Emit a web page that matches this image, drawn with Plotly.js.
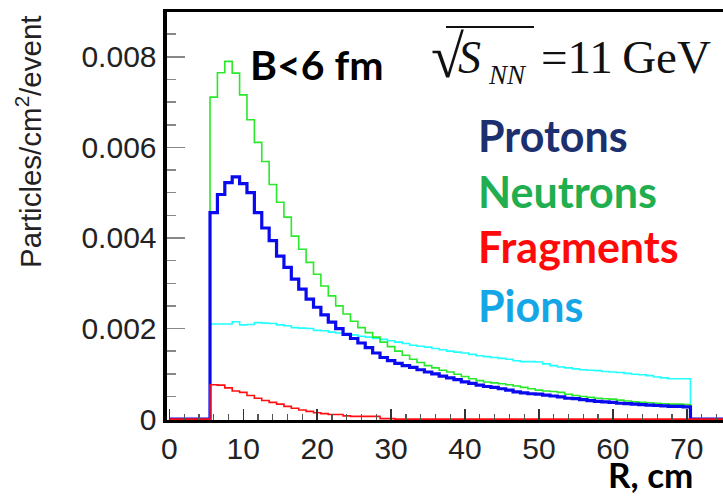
<!DOCTYPE html>
<html>
<head>
<meta charset="utf-8">
<script src="https://cdn.plot.ly/plotly-3.0.1.min.js"></script>
<style>html,body{margin:0;padding:0;background:#fff;}#chart{width:723px;height:497px;}</style>
</head>
<body>
<div id="chart"></div>
<script>
// R bin centres (cm)
const R = [0,1,2,3,4,5,6,7,8,9,10,11,12,13,14,15,16,17,18,19,20,21,22,23,24,25,26,27,28,29,30,
  31,32,33,34,35,36,37,38,39,40,41,42,43,44,45,46,47,48,49,50,51,52,53,54,55,56,57,58,59,60,
  61,62,63,64,65,66,67,68,69,70,71,72,73,74,75];

// Particles/cm^2/event
const protons = [0,0,0,0,0,0,
  0.00456,0.00496,0.00522,0.00535,0.00520,0.00500,0.00456,0.00422,0.00394,0.00360,
  0.00335,0.00309,0.00287,0.00265,0.00247,0.00230,0.00214,0.00200,0.00187,0.00178,
  0.00168,0.00158,0.00146,0.00136,0.00129,0.00123,0.00118,0.00114,0.00109,0.00104,
  0.00100,0.00095,0.00091,0.00087,0.00082,0.00079,0.00075,0.00072,0.00070,0.00067,
  0.00064,0.00060,0.00058,0.00056,0.00055,0.00053,0.00051,0.00049,0.00046,0.00045,
  0.00043,0.00041,0.00039,0.00038,0.00037,0.00035,0.00034,0.00033,0.00032,0.00031,
  0.00030,0.00029,0.00028,0.00028,0.00027,
  0,0,0,0,0];

const neutrons = [0,0,0,0,0,0,
  0.00711,0.00765,0.00790,0.00764,0.00716,0.00661,0.00611,0.00569,0.00518,0.00479,
  0.00446,0.00404,0.00375,0.00346,0.00320,0.00294,0.00272,0.00250,0.00232,0.00216,
  0.00202,0.00191,0.00181,0.00170,0.00160,0.00150,0.00141,0.00132,0.00125,0.00118,
  0.00113,0.00108,0.00104,0.00099,0.00094,0.00089,0.00085,0.00082,0.00080,0.00078,
  0.00076,0.00073,0.00070,0.00067,0.00064,0.00062,0.00061,0.00059,0.00055,0.00052,
  0.00050,0.00048,0.00046,0.00045,0.00044,0.00042,0.00040,0.00038,0.00037,0.00036,
  0.00035,0.00034,0.00033,0.00033,0.00032,
  0,0,0,0,0];

const fragments = [0,0,0,0,0,0,
  0.00076,0.00075,0.00069,0.00062,0.00059,0.00052,0.00046,0.00041,0.00037,0.00033,
  0.00028,0.00024,0.00020,0.00017,0.00014,0.00012,0.00010,0.00010,0.00007,0.00006,
  0.00006,0.00006,0.00006,0.00001,0.00001,0,0,0,0,0,
  0,0,0,0,0,0,0,0,0,0,
  0,0,0,0,0,0,0,0,0,0,
  0,0,0,0,0,0,0,0,0,0,
  0,0,0,0,0,
  0,0,0,0,0];

const pions = [0,0,0,0,0,0,
  0.00210,0.00210,0.00210,0.00215,0.00208,0.00209,0.00213,0.00212,0.00211,0.00208,
  0.00206,0.00202,0.00201,0.00200,0.00196,0.00195,0.00192,0.00190,0.00188,0.00186,
  0.00183,0.00181,0.00178,0.00176,0.00173,0.00170,0.00167,0.00163,0.00161,0.00159,
  0.00156,0.00153,0.00150,0.00148,0.00146,0.00143,0.00140,0.00138,0.00136,0.00134,
  0.00132,0.00129,0.00127,0.00127,0.00126,0.00122,0.00118,0.00115,0.00113,0.00111,
  0.00109,0.00108,0.00107,0.00105,0.00104,0.00103,0.00101,0.00099,0.00098,0.00096,
  0.00093,0.00091,0.00089,0.00089,0.00089,
  0,0,0,0,0];

const yTicks = [0, 0.002, 0.004, 0.006, 0.008];
const yTickText = ['0', '0.002', '0.004', '0.006', '0.008'];
const xTicks = [0, 10, 20, 30, 40, 50, 60, 70];
const xTickText = ['0', '10', '20', '30', '40', '50', '60', '70'];

const legendNames = ['Protons', 'Neutrons', 'Fragments', 'Pions'];

// page geometry helpers (plot area 167..723 x, 12..420 y)
const L = 167, T = 12, W = 556, H = 408;
const px = x => (x - L) / W;
const py = y => (T + H - y) / H;

function step(y, color, width) {
  return {x: R, y: y, type: 'scatter', mode: 'lines',
    line: {shape: 'hvh', color: color, width: width}, hoverinfo: 'skip', showlegend: false};
}

const traces = [
  step(pions, '#22ffff', 1.6),
  step(neutrons, '#2ae82a', 1.6),
  step(protons, '#0a0aee', 3.2),
  step(fragments, '#ff1010', 1.6)
];

const sans = 'Liberation Sans, Arial, sans-serif';
const serif = 'Liberation Serif, Times New Roman, serif';
const cal = 'Lato, Open Sans, sans-serif';

const annotations = [
  {text: 'Particles/cm<sup>2</sup>/event', xref: 'paper', yref: 'paper', x: px(28), y: py(142),
   xanchor: 'center', yanchor: 'middle', textangle: -90, showarrow: false,
   font: {family: sans, size: 29.5, color: '#222'}},
  {text: '<b>B<6 fm</b>', xref: 'paper', yref: 'paper', x: px(248), y: py(64),
   xanchor: 'left', yanchor: 'middle', showarrow: false,
   font: {family: cal, size: 41, color: '#000'}},
  {text: '\u221A', xref: 'paper', yref: 'paper', x: px(429), y: py(57),
   xanchor: 'left', yanchor: 'middle', showarrow: false,
   font: {family: serif, size: 60, color: '#111'}},
  {text: '<i>S</i>', xref: 'paper', yref: 'paper', x: px(456), y: py(57),
   xanchor: 'left', yanchor: 'middle', showarrow: false,
   font: {family: serif, size: 46, color: '#111'}},
  {text: '<i>NN</i>', xref: 'paper', yref: 'paper', x: px(486), y: py(75),
   xanchor: 'left', yanchor: 'middle', showarrow: false,
   font: {family: serif, size: 27, color: '#111'}},
  {text: '=11\u2009GeV', xref: 'paper', yref: 'paper', x: px(539), y: py(57),
   xanchor: 'left', yanchor: 'middle', showarrow: false,
   font: {family: serif, size: 47, color: '#111'}},
  {text: '<b>' + legendNames[0] + '</b>', xref: 'paper', yref: 'paper', x: px(476), y: py(135),
   xanchor: 'left', yanchor: 'middle', showarrow: false,
   font: {family: cal, size: 43, color: '#1c2f6e'}},
  {text: '<b>' + legendNames[1] + '</b>', xref: 'paper', yref: 'paper', x: px(476), y: py(191),
   xanchor: 'left', yanchor: 'middle', showarrow: false,
   font: {family: cal, size: 43, color: '#20ae4e'}},
  {text: '<b>' + legendNames[2] + '</b>', xref: 'paper', yref: 'paper', x: px(476), y: py(247),
   xanchor: 'left', yanchor: 'middle', showarrow: false,
   font: {family: cal, size: 43, color: '#ff0a0a'}},
  {text: '<b>' + legendNames[3] + '</b>', xref: 'paper', yref: 'paper', x: px(476), y: py(305),
   xanchor: 'left', yanchor: 'middle', showarrow: false,
   font: {family: cal, size: 43, color: '#14a6e6'}},
  {text: '<b>R, cm</b>', xref: 'paper', yref: 'paper', x: px(606), y: py(497),
   xanchor: 'left', yanchor: 'bottom', showarrow: false,
   font: {family: cal, size: 35, color: '#000'}}
];

const layout = {
  width: 723, height: 497,
  margin: {l: L, r: 723 - L - W, t: T, b: 497 - T - H, pad: 0},
  paper_bgcolor: '#fff', plot_bgcolor: '#fff',
  showlegend: false,
  xaxis: {
    range: [-0.32, 74.9], showgrid: false, zeroline: false,
    showline: true, linecolor: '#000', linewidth: 3, mirror: true,
    ticks: 'inside', ticklen: 11, tickwidth: 1.5, tickcolor: '#333',
    tickvals: xTicks, ticktext: xTickText,
    minor: {ticks: 'inside', ticklen: 6, tickwidth: 1.2, tickcolor: '#555', dtick: 2, tick0: 0, showgrid: false},
    tickfont: {family: sans, size: 30, color: '#222'}
  },
  yaxis: {
    range: [-0.00002, 0.00899], showgrid: false, zeroline: false,
    showline: true, linecolor: '#000', linewidth: 4.5,
    ticks: 'inside', ticklen: 18, tickwidth: 1.5, tickcolor: '#888',
    tickvals: yTicks, ticktext: yTickText, ticksuffix: '\u00a0',
    minor: {ticks: 'inside', ticklen: 9, tickwidth: 1.5, tickcolor: '#888', dtick: 0.0005, tick0: 0, showgrid: false},
    tickfont: {family: sans, size: 30, color: '#222'}
  },
  shapes: [
    {type: 'line', xref: 'paper', yref: 'paper', x0: px(446), x1: px(534), y0: py(27), y1: py(27),
     line: {color: '#111', width: 2}}
  ],
  annotations: annotations
};

Plotly.newPlot('chart', traces, layout, {staticPlot: true, displayModeBar: false});
</script>
</body>
</html>
